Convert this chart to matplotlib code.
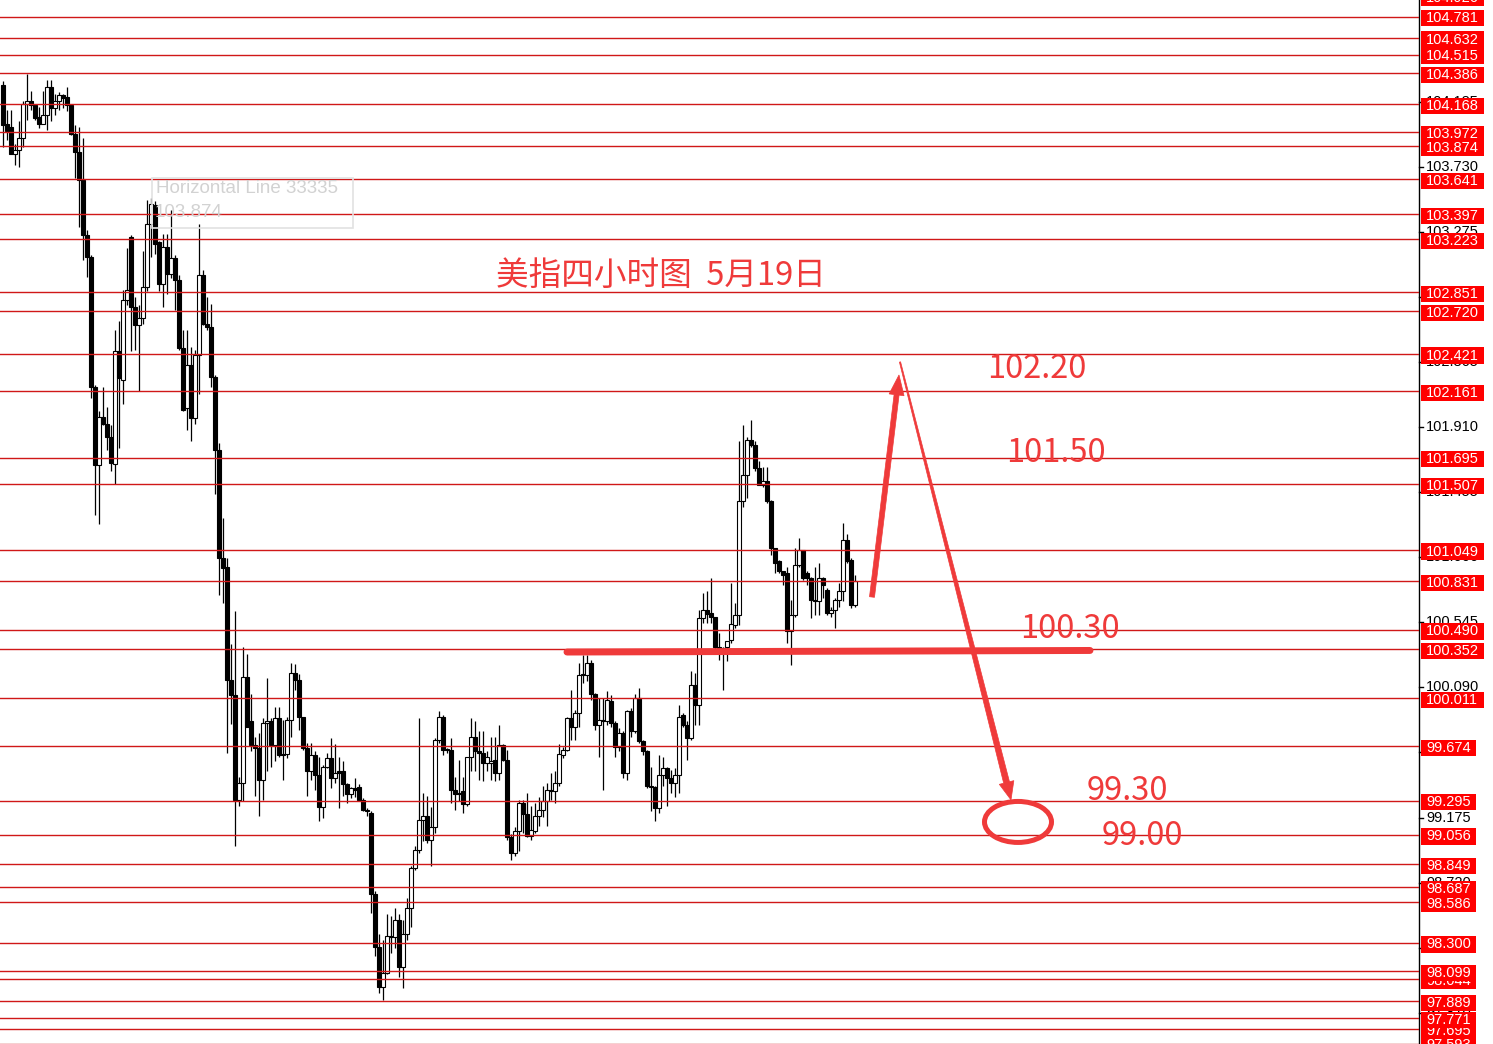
import numpy as np
import matplotlib
matplotlib.use('Agg')
import matplotlib.pyplot as plt
from matplotlib.patches import Rectangle, Ellipse, Polygon
from matplotlib.transforms import blended_transform_factory, IdentityTransform

# 4h candles, oldest first: open, high, low, close
opens = [104.30, 104.03, 104.01, 103.82, 103.85, 103.93, 104.17, 104.19, 104.16, 104.08,
         104.03, 104.09, 104.29, 104.14, 104.19, 104.23, 104.22, 104.16, 103.96, 103.83,
         103.64, 103.25, 103.10, 102.19, 101.64, 101.98, 101.93, 101.84, 101.65, 102.44,
         102.24, 102.80, 103.24, 102.75, 102.62, 102.67, 102.89, 103.33, 103.46, 103.20,
         102.91, 103.17, 102.98, 103.09, 102.94, 102.46, 102.04, 102.34, 101.97, 102.41,
         102.97, 102.63, 102.61, 102.26, 101.75, 100.99, 100.93, 100.14, 100.03, 99.30,
         99.42, 100.16, 99.85, 99.68, 99.66, 99.44, 99.84, 99.85, 99.68, 99.87,
         99.62, 99.62, 99.86, 100.19, 100.14, 99.88, 99.66, 99.50, 99.61, 99.47,
         99.25, 99.53, 99.59, 99.45, 99.50, 99.50, 99.41, 99.34, 99.38, 99.39,
         99.30, 99.23, 99.21, 98.64, 98.27, 97.99, 98.09, 98.34, 98.34, 98.46,
         98.13, 98.36, 98.54, 98.82, 98.95, 99.16, 99.19, 99.02, 99.11, 99.72,
         99.88, 99.65, 99.65, 99.37, 99.35, 99.36, 99.27, 99.60, 99.74, 99.64,
         99.63, 99.56, 99.56, 99.58, 99.49, 99.68, 99.58, 99.04, 98.93, 99.08,
         99.28, 99.20, 99.05, 99.08, 99.19, 99.23, 99.29, 99.37, 99.36, 99.42,
         99.61, 99.65, 99.87, 99.81, 99.91, 100.17, 100.17, 100.26, 100.04, 99.82,
         99.86, 99.85, 99.99, 99.84, 99.67, 99.77, 99.49, 99.92, 99.78, 100.01,
         99.71, 99.64, 99.40, 99.39, 99.24, 99.47, 99.52, 99.45, 99.42, 99.47,
         99.89, 99.82, 99.73, 100.10, 99.96, 100.57, 100.63, 100.61, 100.58, 100.37,
         100.35, 100.37, 100.42, 100.52, 100.59, 101.39, 101.57, 101.82, 101.78, 101.62,
         101.50, 101.53, 101.39, 101.06, 100.97, 100.90, 100.89, 100.48, 100.59, 100.94,
         101.05, 100.89, 100.85, 100.70, 100.69, 100.85, 100.77, 100.61, 100.63, 100.70,
         100.76, 101.12, 100.98, 100.66]
highs = [104.33, 104.13, 104.13, 103.89, 104.05, 104.19, 104.38, 104.26, 104.17, 104.15,
         104.26, 104.34, 104.34, 104.24, 104.25, 104.24, 104.29, 104.17, 104.02, 104.01,
         103.93, 103.29, 103.11, 102.20, 102.02, 102.19, 102.05, 101.92, 102.59, 102.65,
         102.87, 103.16, 103.25, 102.82, 102.76, 103.14, 103.50, 103.51, 103.49, 103.21,
         103.26, 103.26, 103.43, 103.11, 102.97, 102.59, 102.59, 102.47, 102.45, 103.33,
         103.01, 102.82, 102.77, 102.27, 101.80, 101.27, 100.99, 100.39, 100.62, 99.46,
         100.37, 100.32, 100.04, 99.74, 99.77, 99.87, 100.15, 99.87, 99.95, 99.95,
         99.86, 99.88, 100.26, 100.25, 100.18, 99.88, 99.70, 99.70, 99.64, 99.60,
         99.54, 99.63, 99.73, 99.69, 99.60, 99.57, 99.42, 99.39, 99.45, 99.41,
         99.31, 99.24, 99.22, 98.66, 98.36, 98.32, 98.50, 98.49, 98.54, 98.50,
         98.46, 98.61, 98.84, 98.98, 99.87, 99.35, 99.33, 99.25, 99.73, 99.92,
         99.89, 99.66, 99.73, 99.46, 99.58, 99.46, 99.60, 99.87, 99.85, 99.78,
         99.78, 99.64, 99.74, 99.74, 99.82, 99.69, 99.65, 99.06, 99.11, 99.30,
         99.30, 99.35, 99.26, 99.28, 99.32, 99.40, 99.42, 99.49, 99.50, 99.69,
         99.67, 99.88, 100.07, 99.93, 100.26, 100.31, 100.31, 100.28, 100.05, 100.01,
         100.01, 100.06, 100.03, 99.85, 99.80, 99.78, 99.93, 99.94, 100.04, 100.08,
         99.72, 99.65, 99.53, 99.40, 99.61, 99.60, 99.53, 99.51, 99.52, 99.96,
         99.91, 99.85, 100.20, 100.19, 100.63, 100.75, 100.76, 100.85, 100.58, 100.47,
         100.37, 100.41, 100.82, 100.68, 101.81, 101.92, 101.84, 101.96, 101.81, 101.67,
         101.63, 101.63, 101.40, 101.06, 100.98, 100.90, 100.93, 100.70, 101.06, 101.13,
         101.05, 100.90, 100.86, 100.93, 100.96, 100.86, 100.78, 100.65, 100.71, 100.82,
         101.24, 101.16, 100.99, 100.87]
lows = [103.87, 103.92, 103.82, 103.74, 103.73, 103.87, 104.06, 104.13, 104.06, 104.00,
        104.03, 103.99, 104.05, 104.09, 104.13, 104.14, 104.12, 103.95, 103.65, 103.31,
        103.08, 102.96, 102.11, 101.29, 101.23, 101.92, 101.75, 101.60, 101.51, 101.76,
        102.07, 102.76, 102.44, 102.45, 102.16, 102.63, 102.86, 103.10, 103.12, 102.86,
        102.75, 102.84, 102.95, 102.73, 102.45, 102.02, 101.89, 101.81, 101.93, 102.14,
        102.62, 102.59, 102.19, 101.44, 100.73, 100.68, 99.63, 99.83, 98.98, 99.26,
        99.29, 99.81, 99.64, 99.33, 99.19, 99.30, 99.50, 99.53, 99.57, 99.60,
        99.44, 99.59, 99.74, 100.07, 99.79, 99.65, 99.33, 99.44, 99.37, 99.15,
        99.17, 99.52, 99.38, 99.42, 99.24, 99.33, 99.28, 99.31, 99.32, 99.30,
        99.22, 99.19, 98.51, 98.21, 97.95, 97.90, 98.08, 98.23, 98.26, 98.06,
        97.98, 98.32, 98.41, 98.81, 98.93, 99.01, 99.00, 98.84, 99.07, 99.70,
        99.61, 99.63, 99.28, 99.23, 99.29, 99.21, 99.26, 99.50, 99.50, 99.44,
        99.43, 99.50, 99.44, 99.43, 99.44, 99.57, 99.02, 98.88, 98.91, 98.94,
        99.07, 99.04, 99.02, 99.07, 99.12, 99.18, 99.12, 99.30, 99.28, 99.40,
        99.59, 99.64, 99.72, 99.72, 99.81, 100.12, 100.13, 100.00, 99.79, 99.60,
        99.37, 99.82, 99.81, 99.60, 99.64, 99.45, 99.44, 99.74, 99.77, 99.70,
        99.61, 99.38, 99.22, 99.15, 99.21, 99.40, 99.26, 99.35, 99.32, 99.35,
        99.81, 99.58, 99.72, 99.82, 99.82, 100.54, 100.54, 100.54, 100.35, 100.28,
        100.07, 100.27, 100.40, 100.50, 100.52, 101.35, 101.41, 101.77, 101.60, 101.50,
        101.49, 101.38, 101.01, 100.89, 100.89, 100.80, 100.40, 100.24, 100.58, 100.93,
        100.84, 100.80, 100.57, 100.59, 100.59, 100.71, 100.59, 100.58, 100.50, 100.65,
        100.69, 100.96, 100.64, 100.65]
closes = [104.02, 103.98, 103.82, 103.85, 103.93, 104.17, 104.19, 104.16, 104.07, 104.03,
          104.09, 104.29, 104.14, 104.19, 104.23, 104.21, 104.16, 103.96, 103.83, 103.64,
          103.25, 103.10, 102.19, 101.64, 101.98, 101.93, 101.84, 101.66, 102.44, 102.25,
          102.80, 102.87, 102.75, 102.62, 102.67, 102.89, 103.33, 103.47, 103.19, 102.91,
          103.17, 102.98, 103.09, 102.94, 102.46, 102.03, 102.34, 101.97, 102.41, 102.97,
          102.63, 102.61, 102.26, 101.75, 100.99, 100.92, 100.14, 100.03, 99.30, 99.42,
          100.16, 99.81, 99.68, 99.66, 99.44, 99.84, 99.85, 99.68, 99.87, 99.61,
          99.61, 99.86, 100.19, 100.14, 99.88, 99.66, 99.50, 99.61, 99.47, 99.25,
          99.53, 99.59, 99.45, 99.49, 99.49, 99.41, 99.34, 99.38, 99.37, 99.30,
          99.23, 99.22, 98.64, 98.27, 97.99, 98.09, 98.35, 98.35, 98.46, 98.13,
          98.36, 98.54, 98.82, 98.95, 99.16, 99.19, 99.02, 99.11, 99.72, 99.88,
          99.65, 99.65, 99.37, 99.34, 99.34, 99.27, 99.60, 99.74, 99.64, 99.63,
          99.56, 99.60, 99.57, 99.49, 99.68, 99.58, 99.04, 98.93, 99.08, 99.28,
          99.20, 99.05, 99.09, 99.19, 99.23, 99.29, 99.37, 99.36, 99.42, 99.62,
          99.65, 99.87, 99.81, 99.91, 100.17, 100.18, 100.26, 100.04, 99.82, 99.86,
          99.85, 100.00, 99.84, 99.67, 99.77, 99.49, 99.92, 99.78, 100.01, 99.71,
          99.64, 99.40, 99.39, 99.24, 99.47, 99.52, 99.45, 99.42, 99.47, 99.88,
          99.82, 99.73, 100.10, 99.96, 100.57, 100.63, 100.60, 100.58, 100.37, 100.35,
          100.36, 100.41, 100.53, 100.59, 101.39, 101.57, 101.82, 101.78, 101.62, 101.50,
          101.53, 101.39, 101.06, 100.96, 100.90, 100.87, 100.48, 100.59, 100.94, 101.05,
          100.85, 100.85, 100.70, 100.69, 100.85, 100.80, 100.61, 100.63, 100.70, 100.76,
          101.12, 100.97, 100.66, 100.83]

# horizontal levels drawn on the chart (red tags on the price scale)
levels = [104.926, 104.781, 104.632, 104.515, 104.386, 104.168, 103.972, 103.874, 103.641,
          103.397, 103.223, 102.851, 102.720, 102.421, 102.161, 101.695, 101.507, 101.049,
          100.831, 100.490, 100.352, 100.011, 99.674, 99.295, 99.056, 98.849, 98.687, 98.586,
          98.300, 98.099, 98.044, 97.889, 97.771, 97.695, 97.593]
# regular price scale ticks
scale_ticks = [104.185, 103.730, 103.275, 102.820, 102.365, 101.910, 101.455, 101.000,
               100.545, 100.090, 99.635, 99.175, 98.720, 98.265, 97.810]

title = '美指四小时图  5月19日'
target_texts = ['102.20', '101.50', '100.30', '99.30', '99.00']
target_pos = [(258.5, 102.318), (263.25, 101.730), (266.75, 100.498), (281.0, 99.364), (284.75, 99.050)]

RED = '#ef3a3a'
LINE_RED = '#d01818'
cjk = ['Noto Sans CJK SC', 'DejaVu Sans']

fig = plt.figure(figsize=(14.93, 10.44), dpi=100)
ax = fig.add_axes([0, 0, 1419 / 1493, 1])
ax.set_xlim(-0.75, -0.75 + 1419 / 4)
ax.set_ylim(97.591, 104.897)
for s in ['top', 'left', 'bottom']:
    ax.spines[s].set_visible(False)
ax.spines['right'].set_color('black')
ax.spines['right'].set_linewidth(1.0)
ax.set_xticks([])
ax.set_yticks([])

# candles
o = np.array(opens); h = np.array(highs); l = np.array(lows); c = np.array(closes)
x = np.arange(len(o))
ax.vlines(x, l, h, color='black', lw=0.9, zorder=2)
bull = c >= o
bottoms = np.minimum(o, c)
heights = np.maximum(np.abs(c - o), 0.008)
ax.bar(x, heights, bottom=bottoms, width=0.8, color=np.where(bull, 'white', 'black'),
       edgecolor='black', linewidth=0.8, zorder=2.5)

# horizontal level lines
for p in levels:
    ax.axhline(p, color=LINE_RED, lw=1.0, zorder=3)

# price scale on the right
tr = blended_transform_factory(ax.transAxes, ax.transData)
px = 1 / 1419
for p in scale_ticks:
    ax.plot([1, 1 + 4 * px], [p, p], color='black', lw=1, transform=tr, clip_on=False)
    ax.text(1 + 7 * px, p, f'{p:.3f}', transform=tr, ha='left', va='center',
            fontsize=10.5, family='Liberation Sans', color='black', zorder=4)
for i, p in enumerate(sorted(levels)):
    lab = f'{p:.3f}'
    w = 8 + 7.8 * len(lab)
    z = 5 + i * 0.02
    ax.add_patch(Rectangle((1 + 2 * px, p - 0.012 - 0.057), w * px, 0.114, transform=tr,
                           facecolor='#ff0000', edgecolor='none', clip_on=False, zorder=z))
    ax.text(1 + (2 + w / 2) * px, p - 0.012, lab, transform=tr, ha='center', va='center',
            fontsize=10.5, family='Liberation Sans', color='white', zorder=z + 0.01)

# faded tooltip of the terminal
ax.add_patch(Rectangle((37.25, 103.301), 50.25, 0.35, fill=False, edgecolor='#e2e2e2', lw=1.2, zorder=4))
ax.text(38.2, 103.581, 'Horizontal Line 33335', ha='left', va='center', fontsize=13.5,
        family='Liberation Sans', color='#d2d2d2', zorder=4)
ax.text(37.8, 103.413, '103.874', ha='left', va='center', fontsize=13.5,
        family='Liberation Sans', color='#d2d2d2', zorder=4)

# hand drawn analysis
ax.text(164.5, 102.965, title, ha='center', va='center', fontsize=23.5, family=cjk, color=RED, zorder=6)
for t, (tx, ty) in zip(target_texts, target_pos):
    ax.text(tx, ty, t, ha='center', va='center', fontsize=23.5, family=cjk, color=RED, zorder=6)

ax.plot([141.0, 271.75], [100.334, 100.345], color=RED, lw=5, solid_capstyle='round', zorder=7)
ax.add_patch(Ellipse((253.75, 99.145), 16.75, 0.287, fill=False, edgecolor=RED, lw=3.6, zorder=7))


def taper_arrow(start, end, w0, w1, head_w, head_l):
    (x0, y0), (x1, y1) = ax.transData.transform([start, end])
    d = np.array([x1 - x0, y1 - y0])
    L = np.hypot(*d)
    u = d / L
    n = np.array([-u[1], u[0]])
    base = np.array([x0, y0])
    neck = base + u * (L - head_l)
    tip = np.array([x1, y1])
    pts = [base + n * w0 / 2, neck + n * w1 / 2, neck + n * head_w / 2, tip,
           neck - n * head_w / 2, neck - n * w1 / 2, base - n * w0 / 2]
    fig.add_artist(Polygon(pts, closed=True, transform=IdentityTransform(),
                           facecolor=RED, edgecolor=RED, lw=0.5, zorder=8))


taper_arrow((217.25, 100.719), (224.0, 102.273), 5, 5, 15, 20)
taper_arrow((224.25, 102.364), (252.0, 99.299), 1.2, 6, 15, 18)

fig.savefig('out.png', dpi=100, facecolor='white')
